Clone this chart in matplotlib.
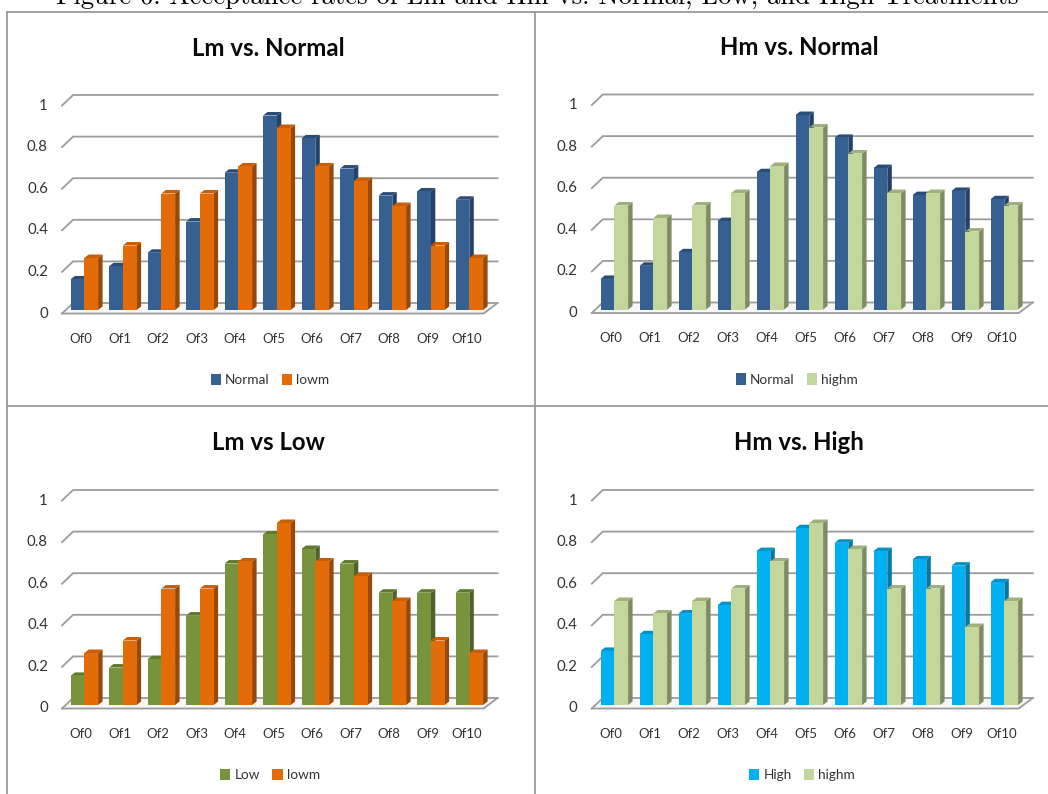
import matplotlib
matplotlib.use("Agg")
import matplotlib.pyplot as plt
from matplotlib.transforms import ScaledTranslation
import numpy as np

W, H = 1048, 794
FONT = ["Lato", "DejaVu Sans"]

offers = ["Of0", "Of1", "Of2", "Of3", "Of4", "Of5", "Of6", "Of7", "Of8", "Of9", "Of10"]
y_ticks = [0, 0.2, 0.4, 0.6, 0.8, 1]
y_labels = ["0", "0.2", "0.4", "0.6", "0.8", "1"]

normal = [0.147, 0.21, 0.275, 0.425, 0.66, 0.935, 0.825, 0.68, 0.55, 0.57, 0.53]
low = [0.14, 0.18, 0.22, 0.43, 0.68, 0.82, 0.75, 0.68, 0.54, 0.54, 0.54]
high = [0.26, 0.34, 0.44, 0.48, 0.74, 0.85, 0.78, 0.74, 0.70, 0.67, 0.59]
lowm = [0.25, 0.31, 0.56, 0.56, 0.69, 0.875, 0.69, 0.62, 0.50, 0.31, 0.25]
highm = [0.50, 0.44, 0.50, 0.56, 0.69, 0.875, 0.75, 0.56, 0.56, 0.375, 0.50]

# front, top, side
C_NORMAL = ("#376092", "#2a4d78", "#24416a")
C_LOW = ("#77933c", "#5f7a2d", "#4f6228")
C_HIGH = ("#00b0f0", "#0091c8", "#0078a8")
C_LOWM = ("#e36c09", "#c85f08", "#984807")
C_HIGHM = ("#c3d69b", "#9fb07a", "#7f8c63")
GRID = "#9c9c9c"

PX_PER_UNIT = 208.0
BAR_W = 13.8
DEPTH_X, DEPTH_Y = 4.5, 3.5

fig = plt.figure(figsize=(W / 100, H / 100), dpi=100, facecolor="white")

# page-level layer in pixel coordinates: caption and the frame lines
page = fig.add_axes([0, 0, 1, 1])
page.set_xlim(0, W)
page.set_ylim(H, 0)
page.axis("off")
page.text(537, 4, "Figure 6: Acceptance rates of Lm and Hm vs. Normal, Low, and High Treatments",
          ha="center", va="baseline", fontsize=19.2, family=["cmr10", "DejaVu Serif"])
for xs, ys in [((7, W), (12, 12)), ((7, 7), (12, H)), ((534.5, 534.5), (12, H)), ((7, W), (406, 406))]:
    page.plot(xs, ys, color="#9a9a9a", lw=1.3)


def panel(x0, base, spacing, title, title_x, name_a, vals_a, col_a, name_b, vals_b, col_b, legend_x):
    """x0 = pixel x of the Of0 bar pair centre, base = pixel y of the bar feet."""
    left = x0 - spacing / 2
    width = spacing * len(offers)
    ax = fig.add_axes([left / W, 1 - base / H, width / W, PX_PER_UNIT / H])
    ax.patch.set_alpha(0)
    ax.set_xlim(-0.5, len(offers) - 0.5)
    ax.set_ylim(0, 1)
    for s in ax.spines.values():
        s.set_visible(False)

    px = 1 / spacing
    py = 1 / PX_PER_UNIT
    # floor and walls, relative to the plot box
    fl, fr = -0.5 - 3 * px, -0.5 + (width - 5) * px
    bl, br = -0.5 + 8 * px, -0.5 + (width + 9) * px
    front_y, back_y = -3.5 * py, 7 * py
    for v in y_ticks:
        ax.plot([fl, bl, br], [v + front_y, v + back_y, v + back_y], color=GRID, lw=1.3,
                clip_on=False, zorder=1, solid_joinstyle="miter")
    ax.plot([fl, fr, br], [front_y, front_y, back_y], color=GRID, lw=1.3, clip_on=False, zorder=1)
    ax.fill([fl, fr, br, bl], [front_y, front_y, back_y, back_y], color="#f7f7f7", zorder=0.5, clip_on=False)

    xpos = np.arange(len(offers))
    bw = BAR_W * px
    dx, dy = DEPTH_X * px, DEPTH_Y * py
    series = [(xpos - bw / 2, vals_a, col_a, name_a, 3), (xpos + bw / 2, vals_b, col_b, name_b, 5)]
    for xc, vals, col, name, z in series:
        ax.bar(xc, vals, width=bw, color=col[0], label=name, zorder=z + 1, clip_on=False)
        for x, v in zip(xc, vals):
            r = x + bw / 2
            l = x - bw / 2
            ax.fill([r, r + dx, r + dx, r], [0, dy, v + dy, v], color=col[2], lw=0, zorder=z, clip_on=False)
            ax.fill([l, l + dx, r + dx, r], [v, v + dy, v + dy, v], color=col[1], lw=0, zorder=z, clip_on=False)

    ax.set_xticks(xpos, offers)
    ax.set_yticks(y_ticks, y_labels)
    ax.tick_params(axis="x", length=0, pad=16.4, labelsize=9.5, labelcolor="#333333")
    ax.tick_params(axis="y", length=0, pad=12.3, labelsize=10.8, labelcolor="#333333")
    shift_y = ScaledTranslation(0, -2 / 100, fig.dpi_scale_trans)
    shift_x = ScaledTranslation(-3 / 100, 0, fig.dpi_scale_trans)
    for lab in ax.get_yticklabels():
        lab.set_transform(lab.get_transform() + shift_y)
        lab.set_family(FONT)
    for lab in ax.get_xticklabels():
        lab.set_transform(lab.get_transform() + shift_x)
        lab.set_family(FONT)

    page.text(title_x, base - 262, title, ha="center", va="center", fontsize=17.3,
              family=FONT, weight="bold", color="#0a0a0a")
    ax.legend(loc="center", bbox_to_anchor=((legend_x - left) / width, -70 / PX_PER_UNIT),
              ncol=2, frameon=False, handlelength=0.75, handleheight=0.95, handletextpad=0.3,
              columnspacing=0.9, prop={"family": FONT, "size": 9.8}, labelcolor="#333333")
    return ax


panel(84.3, 310, 38.5, "Lm vs. Normal", 268, "Normal", normal, C_NORMAL, "lowm", lowm, C_LOWM, 270)
panel(614.3, 309.5, 39.0, "Hm vs. Normal", 799, "Normal", normal, C_NORMAL, "highm", highm, C_HIGHM, 797)
panel(84.3, 705, 38.5, "Lm vs Low", 268, "Low", low, C_LOW, "lowm", lowm, C_LOWM, 270)
panel(614.3, 705, 39.0, "Hm vs. High", 799, "High", high, C_HIGH, "highm", highm, C_HIGHM, 802)

fig.savefig("out.png", dpi=100)
